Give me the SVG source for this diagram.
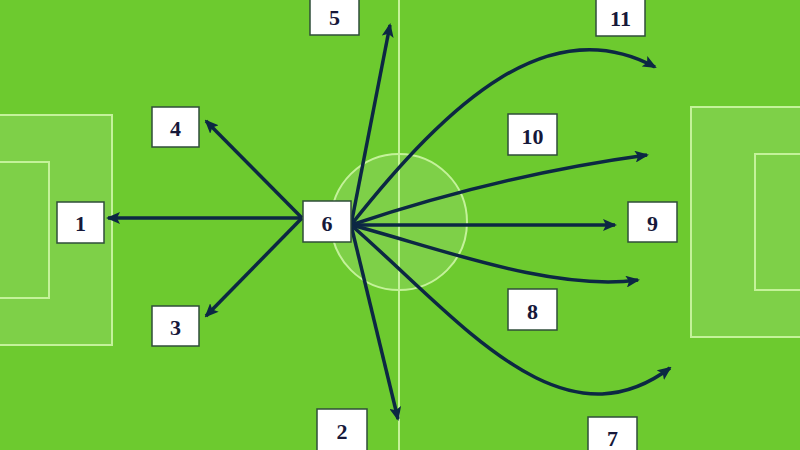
<svg xmlns="http://www.w3.org/2000/svg" width="800" height="450" viewBox="0 0 800 450">
<style>
.pitch{fill:#6dca2f}
.area{fill:#ffffff;fill-opacity:0.12;stroke:#c4f29a;stroke-width:2}
.inner{fill:none;stroke:#c4f29a;stroke-width:2}
.line{stroke:#c4f29a;stroke-width:2;fill:none}
.box{fill:#ffffff;stroke:#2f4d3a;stroke-width:1.5}
.lbl{font-family:"Liberation Serif",serif;font-weight:bold;font-size:22px;fill:#16183a;text-anchor:middle;dominant-baseline:central}
.arr{fill:none;stroke:#0c2843;stroke-width:3.5;marker-end:url(#ah)}
</style>
<defs>
<marker id="ah" viewBox="0 0 14 12" refX="12" refY="6" markerWidth="14" markerHeight="12" markerUnits="userSpaceOnUse" orient="auto">
<path d="M0,0 L14,6 L0,12 L3,6 z" fill="#0c2843"/>
</marker>
</defs>
<g id="pitch">
<rect class="pitch" x="0" y="0" width="800" height="450"/>
<rect class="area" x="-5" y="115" width="117" height="230"/>
<rect class="inner" x="-5" y="162" width="54" height="136"/>
<rect class="area" x="691" y="107" width="120" height="230"/>
<rect class="inner" x="755" y="154" width="60" height="136"/>
<circle cx="399" cy="222" r="68" fill="#ffffff" fill-opacity="0.12" stroke="#c4f29a" stroke-width="2"/>
<line class="line" x1="399" y1="0" x2="399" y2="450"/>
</g>
<g id="connectors">
<line class="arr" x1="302" y1="218" x2="108" y2="218"/>
<line class="arr" x1="302" y1="218" x2="206" y2="121"/>
<line class="arr" x1="302" y1="218" x2="206" y2="316"/>
<line class="arr" x1="351" y1="225" x2="390" y2="25"/>
<line class="arr" x1="351" y1="225" x2="398" y2="419"/>
<line class="arr" x1="351" y1="225" x2="615" y2="225"/>
<path class="arr" d="M351,225 Q500,175 647,155"/>
<path class="arr" d="M351,225 C450,100 550,10 655,67"/>
<path class="arr" d="M351,225 C430,245 550,292 638,280"/>
<path class="arr" d="M351,225 C460,320 560,450 670,368"/>
</g>
<g id="node1"><rect class="box" x="57" y="202" width="47" height="41"/><text class="lbl" x="80.5" y="223">1</text></g>
<g id="node2"><rect class="box" x="317" y="409" width="50" height="45"/><text class="lbl" x="342" y="431">2</text></g>
<g id="node3"><rect class="box" x="152" y="306" width="47" height="40"/><text class="lbl" x="175.5" y="327">3</text></g>
<g id="node4"><rect class="box" x="152" y="107" width="47" height="40"/><text class="lbl" x="175.5" y="128">4</text></g>
<g id="node5"><rect class="box" x="310" y="-5" width="49" height="40"/><text class="lbl" x="334.5" y="17">5</text></g>
<g id="node6"><rect class="box" x="303" y="201" width="48" height="41"/><text class="lbl" x="327" y="223">6</text></g>
<g id="node7"><rect class="box" x="588" y="417" width="49" height="40"/><text class="lbl" x="612.5" y="438">7</text></g>
<g id="node8"><rect class="box" x="508" y="289" width="49" height="41"/><text class="lbl" x="532.5" y="311">8</text></g>
<g id="node9"><rect class="box" x="628" y="202" width="49" height="40"/><text class="lbl" x="652.5" y="223">9</text></g>
<g id="node10"><rect class="box" x="508" y="114" width="49" height="41"/><text class="lbl" x="532.5" y="136">10</text></g>
<g id="node11"><rect class="box" x="596" y="-5" width="49" height="41"/><text class="lbl" x="620.5" y="18">11</text></g>
</svg>
